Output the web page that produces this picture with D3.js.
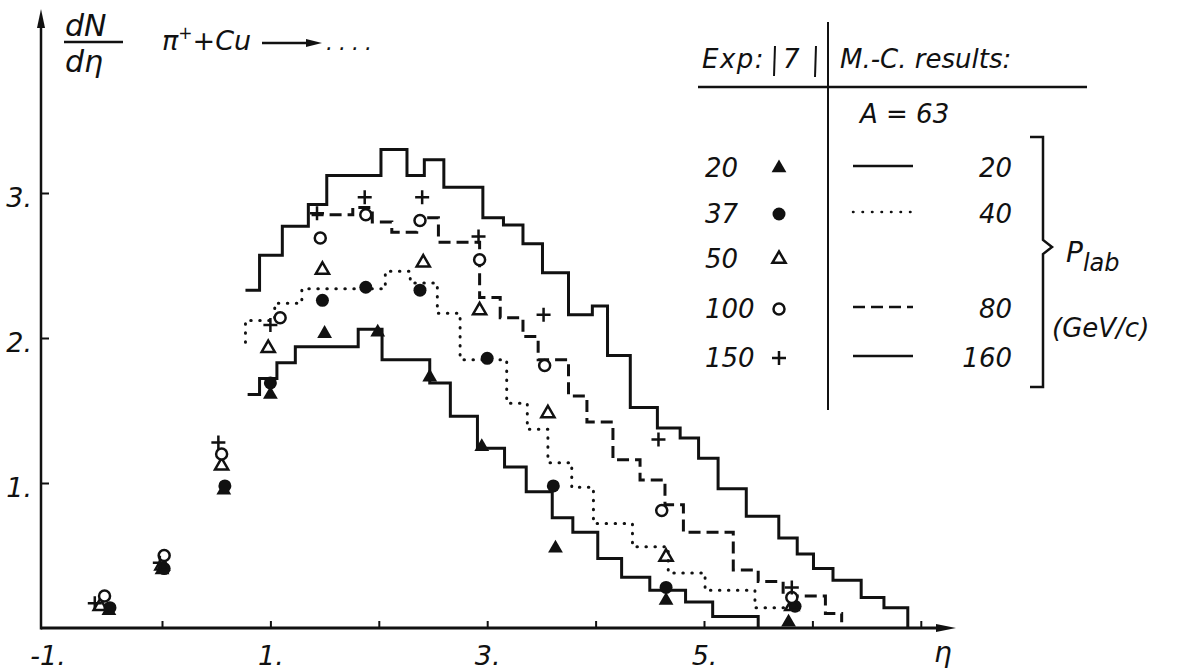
<!DOCTYPE html>
<html>
<head>
<meta charset="utf-8">
<script src="https://cdn.jsdelivr.net/npm/d3@7"></script>
<style>
body { margin: 0; background: #fff; }
svg text { font-family: "DejaVu Sans", sans-serif; font-style: italic; fill: #111; }
</style>
</head>
<body>
<svg width="1184" height="672"></svg>
<script>
// M.-C. histograms (A = 63): bin edges in eta, dN/deta in each bin
let mc160Edges = [0.77, 0.90, 1.11, 1.35, 1.52, 2.02, 2.26, 2.42, 2.60, 2.96, 3.15, 3.33, 3.51, 3.75, 3.97, 4.11, 4.32, 4.57, 4.78, 4.95, 5.13, 5.39, 5.69, 5.86, 6.01, 6.19, 6.45, 6.66, 6.88];
let mc160Values = [2.33, 2.57, 2.77, 2.92, 3.12, 3.30, 3.12, 3.23, 3.04, 2.83, 2.78, 2.65, 2.45, 2.16, 2.22, 1.88, 1.52, 1.38, 1.31, 1.17, 0.96, 0.77, 0.62, 0.51, 0.41, 0.33, 0.21, 0.14];

let mc80Edges = [1.38, 1.76, 1.94, 2.12, 2.35, 2.55, 2.93, 3.12, 3.33, 3.47, 3.75, 3.92, 4.16, 4.41, 4.64, 4.81, 5.27, 5.50, 5.73, 6.12, 6.27];
let mc80Values = [2.85, 2.90, 2.80, 2.73, 2.83, 2.66, 2.28, 2.14, 2.01, 1.85, 1.60, 1.42, 1.16, 1.02, 0.85, 0.66, 0.40, 0.32, 0.22, 0.10];

let mc40Edges = [0.77, 1.04, 1.29, 2.06, 2.29, 2.54, 2.75, 3.18, 3.37, 3.56, 3.78, 3.98, 4.34, 4.67, 5.01, 5.47, 5.84];
let mc40Values = [2.12, 2.24, 2.34, 2.46, 2.38, 2.17, 1.85, 1.55, 1.37, 1.14, 0.97, 0.72, 0.56, 0.38, 0.26, 0.14];

let mc20Edges = [0.79, 0.90, 1.06, 1.23, 1.81, 2.03, 2.47, 2.66, 2.91, 3.16, 3.36, 3.60, 3.79, 4.02, 4.24, 4.50, 4.83, 5.08, 5.50];
let mc20Values = [1.61, 1.72, 1.83, 1.94, 2.06, 1.85, 1.69, 1.46, 1.24, 1.11, 0.94, 0.76, 0.66, 0.48, 0.35, 0.26, 0.18, 0.08];

// Exp. [7]: [eta, dN/deta]
let exp20 = [[-0.49, 0.12], [0.0, 0.40], [0.57, 0.95], [1.0, 1.61], [1.5, 2.03], [1.99, 2.04], [2.47, 1.73], [2.95, 1.25], [3.63, 0.55], [4.65, 0.19], [5.78, 0.04]];
let exp37 = [[-0.48, 0.14], [0.02, 0.41], [0.58, 0.98], [1.0, 1.69], [1.48, 2.26], [1.88, 2.35], [2.38, 2.33], [3.0, 1.86], [3.61, 0.98], [4.65, 0.28], [5.84, 0.15]];
let exp50 = [[-0.57, 0.15], [0.0, 0.43], [0.55, 1.12], [0.98, 1.93], [1.48, 2.47], [2.41, 2.52], [2.93, 2.19], [3.56, 1.48], [4.65, 0.49], [5.81, 0.15]];
let exp100 = [[-0.53, 0.22], [0.02, 0.50], [0.55, 1.20], [1.09, 2.14], [1.46, 2.69], [1.88, 2.85], [2.38, 2.81], [2.93, 2.54], [3.53, 1.81], [4.61, 0.81], [5.81, 0.21]];
let exp150 = [[-0.62, 0.17], [-0.02, 0.45], [0.52, 1.28], [1.0, 2.09], [1.43, 2.86], [1.87, 2.97], [2.40, 2.97], [2.92, 2.70], [3.52, 2.16], [4.58, 1.30], [5.81, 0.28]];

let expLabels = ['20', '37', '50', '100', '150'];
let mcLabels = ['20', '40', '', '80', '160'];
let xTickValues = [0, 1, 2, 3, 4, 5, 6, 7];
let xLabelValues = [-1, 1, 3, 5];
let yTickValues = [1, 2, 3];

let svg = d3.select('svg');

let x = d3.scaleLinear().domain([-1, 7]).range([53.6, 920.8]);
let y = d3.scaleLinear().domain([0, 3]).range([628, 193]);

let ink = '#111';

// axes
let x0 = 41, y0 = 628;

svg.append('g')
    .attr('transform', 'translate(0,' + y0 + ')')
    .call(d3.axisBottom(x).tickValues(xTickValues).tickSize(-7).tickFormat(''))
    .call(g => g.select('.domain').remove())
    .selectAll('line').attr('stroke', ink).attr('stroke-width', 2);

svg.append('g')
    .attr('transform', 'translate(0,' + y0 + ')')
    .call(d3.axisBottom(x).tickValues(xLabelValues).tickSize(0).tickFormat(d => d + '.'))
    .call(g => g.select('.domain').remove())
    .selectAll('text')
    .attr('y', 37).attr('dy', 0)
    .attr('font-size', '27px')
    .attr('font-family', '"DejaVu Sans", sans-serif')
    .attr('fill', ink)
    .attr('dx', d => d < 0 ? -6 : 0);

svg.append('g')
    .attr('transform', 'translate(' + x0 + ',0)')
    .call(d3.axisLeft(y).tickValues(yTickValues).tickSize(-8).tickPadding(9).tickFormat(d => d + '.'))
    .call(g => g.select('.domain').remove())
    .call(g => g.selectAll('line').attr('stroke', ink).attr('stroke-width', 2))
    .selectAll('text')
    .attr('dy', '0.5em')
    .attr('font-size', '27px')
    .attr('font-family', '"DejaVu Sans", sans-serif')
    .attr('fill', ink);

svg.append('line').attr('x1', x0).attr('y1', y0).attr('x2', 946).attr('y2', y0)
    .attr('stroke', ink).attr('stroke-width', 3);
svg.append('path').attr('d', 'M956,' + y0 + 'L936,' + (y0 - 4) + 'L936,' + (y0 + 4) + 'Z').attr('fill', ink);
svg.append('line').attr('x1', x0).attr('y1', y0 + 1.5).attr('x2', x0).attr('y2', 20)
    .attr('stroke', ink).attr('stroke-width', 2.5);
svg.append('path').attr('d', 'M' + x0 + ',9L' + (x0 - 4) + ',28L' + (x0 + 4) + ',28Z').attr('fill', ink);

// histograms
function steps(edges, values, startVal, endVal) {
    let pts = [];
    if (startVal != null) pts.push([edges[0], startVal]);
    values.forEach((v, i) => { pts.push([edges[i], v]); pts.push([edges[i + 1], v]); });
    if (endVal != null) pts.push([edges[edges.length - 1], endVal]);
    return pts;
}

let line = d3.line().x(d => x(d[0])).y(d => y(d[1]));

svg.append('path').attr('d', line(steps(mc160Edges, mc160Values, null, 0)))
    .attr('fill', 'none').attr('stroke', ink).attr('stroke-width', 3);
svg.append('path').attr('d', line(steps(mc20Edges, mc20Values, null, 0)))
    .attr('fill', 'none').attr('stroke', ink).attr('stroke-width', 3);
svg.append('path').attr('d', line(steps(mc80Edges, mc80Values, null, 0.04)))
    .attr('fill', 'none').attr('stroke', ink).attr('stroke-width', 3)
    .attr('stroke-dasharray', '12,6');
svg.append('path').attr('d', line(steps(mc40Edges, mc40Values, 1.97, null)))
    .attr('fill', 'none').attr('stroke', ink).attr('stroke-width', 3)
    .attr('stroke-linecap', 'round').attr('stroke-dasharray', '0.5,8.5');

// markers
let tri = d3.symbol().type(d3.symbolTriangle).size(95);
let triOpen = d3.symbol().type(d3.symbolTriangle).size(75);

function drawMarker(g, kind) {
    if (kind === 'tri') g.append('path').attr('d', tri).attr('fill', ink);
    if (kind === 'dot') g.append('circle').attr('r', 6.5).attr('fill', ink);
    if (kind === 'triOpen') g.append('path').attr('d', triOpen).attr('fill', 'none').attr('stroke', ink).attr('stroke-width', 2.5);
    if (kind === 'ring') g.append('circle').attr('r', 5.5).attr('fill', '#fff').attr('stroke', ink).attr('stroke-width', 2.5);
    if (kind === 'plus') g.append('path').attr('d', 'M-7,0H7M0,-7V7').attr('stroke', ink).attr('stroke-width', 2.5);
}

let series = [[exp20, 'tri'], [exp37, 'dot'], [exp50, 'triOpen'], [exp100, 'ring'], [exp150, 'plus']];

series.forEach(([data, kind]) => {
    svg.selectAll(null)
        .data(data)
        .enter().append('g')
        .attr('transform', d => 'translate(' + x(d[0]) + ',' + y(d[1]) + ')')
        .each(function() { drawMarker(d3.select(this), kind); });
});

// title
let t = svg.append('g');
t.append('text').attr('x', 65).attr('y', 36).attr('font-size', '30px').text('dN');
t.append('line').attr('x1', 64).attr('x2', 123).attr('y1', 42).attr('y2', 42).attr('stroke', ink).attr('stroke-width', 2.5);
t.append('text').attr('x', 65).attr('y', 72).attr('font-size', '30px').text('dη');
let tt = t.append('text').attr('x', 162).attr('y', 50).attr('font-size', '27px');
tt.append('tspan').text('π');
tt.append('tspan').attr('dy', -11).attr('font-size', '17px').text('+');
tt.append('tspan').attr('dy', 11).text('+Cu');
t.append('line').attr('x1', 262).attr('x2', 312).attr('y1', 43).attr('y2', 43).attr('stroke', ink).attr('stroke-width', 2.5);
t.append('path').attr('d', 'M322,43L306,39L306,47Z').attr('fill', ink);
t.append('text').attr('x', 326).attr('y', 50).attr('font-size', '22px').attr('letter-spacing', '6px').text('....');

// legend table
let lg = svg.append('g');
lg.append('text').attr('x', 702).attr('y', 68).attr('font-size', '26px').attr('letter-spacing', '1.5px').text('Exp:');
lg.append('line').attr('x1', 775).attr('x2', 774).attr('y1', 46).attr('y2', 76).attr('stroke', ink).attr('stroke-width', 2);
lg.append('text').attr('x', 783).attr('y', 68).attr('font-size', '26px').text('7');
lg.append('line').attr('x1', 816).attr('x2', 815).attr('y1', 46).attr('y2', 77).attr('stroke', ink).attr('stroke-width', 2);
lg.append('text').attr('x', 840).attr('y', 68).attr('font-size', '26px').text('M.-C. results:');
lg.append('line').attr('x1', 698).attr('x2', 1087).attr('y1', 87).attr('y2', 87).attr('stroke', ink).attr('stroke-width', 2.5);
lg.append('line').attr('x1', 828).attr('x2', 828).attr('y1', 22).attr('y2', 410).attr('stroke', ink).attr('stroke-width', 2);
lg.append('text').attr('x', 860).attr('y', 123).attr('font-size', '26px').text('A = 63');

let rowY = [177, 223, 268, 318, 367];
let kinds = ['tri', 'dot', 'triOpen', 'ring', 'plus'];
let mcStyles = ['solid', 'dot', null, 'dash', 'solid'];

rowY.forEach((ry, i) => {
    lg.append('text').attr('x', 705).attr('y', ry).attr('font-size', '26px').text(expLabels[i]);
    let m = lg.append('g').attr('transform', 'translate(779,' + (ry - 9) + ')');
    drawMarker(m, kinds[i]);
    if (mcStyles[i]) {
        let l = lg.append('line').attr('x1', 853).attr('x2', 913).attr('y1', ry - 11).attr('y2', ry - 11)
            .attr('stroke', ink).attr('stroke-width', 2.5);
        if (mcStyles[i] === 'dot') l.attr('stroke-dasharray', '0.5,9').attr('stroke-linecap', 'round').attr('stroke-width', 2.5);
        if (mcStyles[i] === 'dash') l.attr('stroke-dasharray', '12,6');
    }
    lg.append('text').attr('x', 1012).attr('y', ry).attr('text-anchor', 'end').attr('font-size', '26px').text(mcLabels[i]);
});

// bracket
lg.append('path')
    .attr('d', 'M1030,137H1043V240L1052,247L1043,254V387H1030')
    .attr('fill', 'none').attr('stroke', ink).attr('stroke-width', 2.5);
let pl = lg.append('text').attr('x', 1066).attr('y', 262).attr('font-size', '28px');
pl.append('tspan').text('P');
pl.append('tspan').attr('dy', 9).attr('font-size', '24px').text('lab');
lg.append('text').attr('x', 1052).attr('y', 337).attr('font-size', '26px').text('(GeV/c)');

// eta label
svg.append('text').attr('x', 934).attr('y', 662).attr('font-size', '28px').text('η');
</script>
</body>
</html>
